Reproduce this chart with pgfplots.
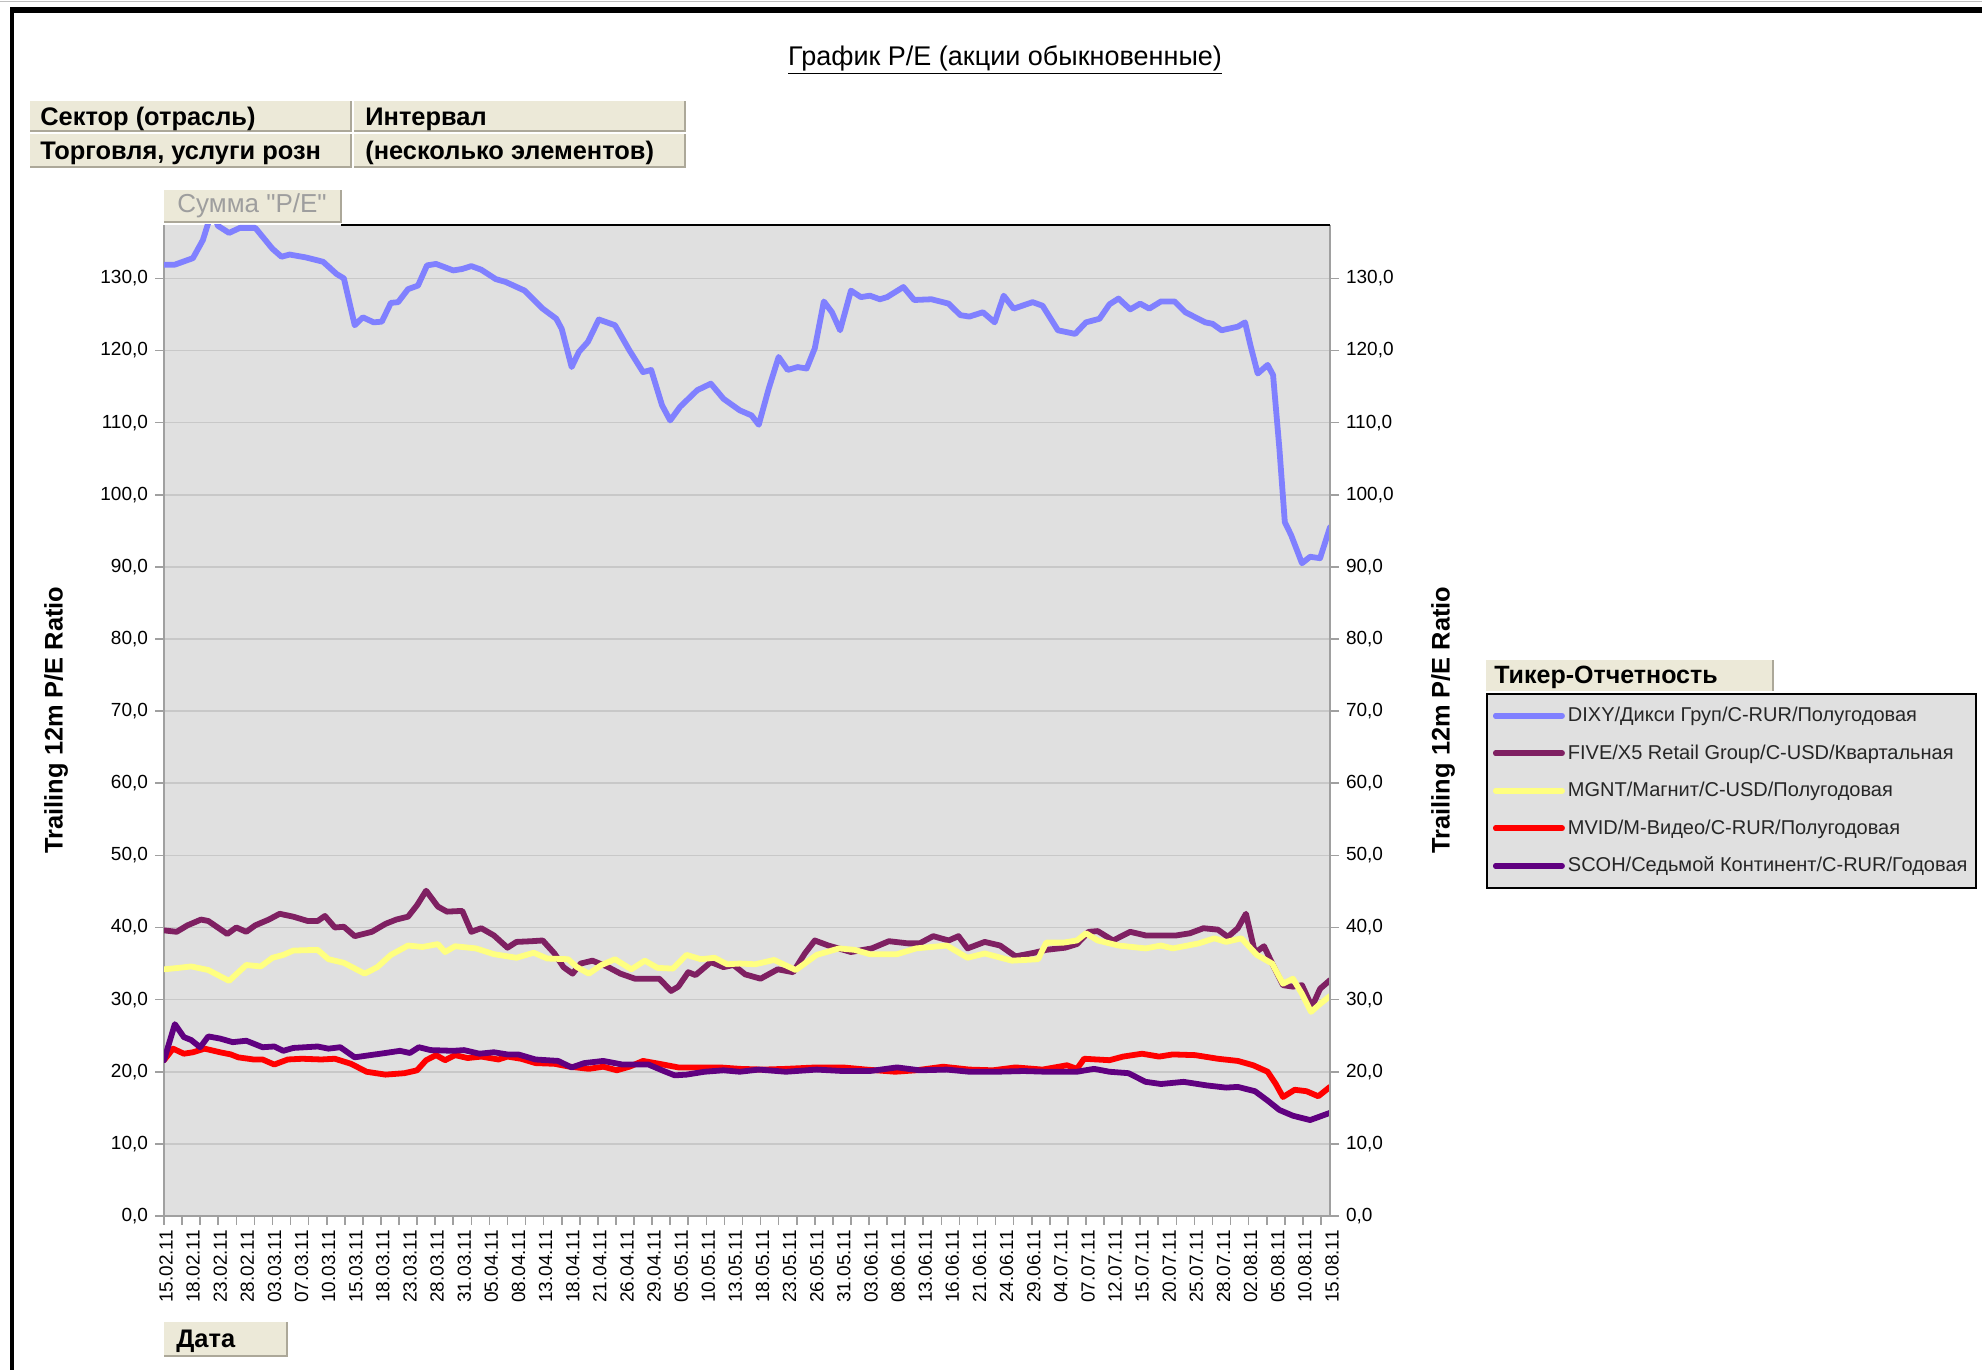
\documentclass[border=0pt]{standalone}
\usepackage{pgfplots}
\pgfplotsset{compat=1.18}
\usepackage{fontspec}
\setmainfont{Liberation Sans}
\newfontfamily\plainquotes{Liberation Sans}[Ligatures=TeXOff]
\definecolor{beige}{HTML}{ECE9D8}
\definecolor{beigedark}{HTML}{ACA899}
\definecolor{plotbg}{HTML}{E0E0E0}
\definecolor{gridc}{HTML}{C8C8C8}
\definecolor{axisc}{HTML}{A0A0A0}
\definecolor{cDIXY}{HTML}{8080FF}
\definecolor{cFIVE}{HTML}{7F2062}
\definecolor{cMGNT}{HTML}{FFFF80}
\definecolor{cMVID}{HTML}{FF0000}
\definecolor{cSCOH}{HTML}{600080}
\pgfplotsset{
  peaxis/.style={
    at={(82pt,77pt)}, anchor=south west, scale only axis,
    width=583pt, height=495.5pt,
    xmin=0, xmax=129, ymin=0, ymax=137.4,
    ytick={0,10,...,130},
    tick align=outside, major tick length=4.5pt,
    tick style={axisc, line width=0.8pt},
    axis line style={axisc, line width=1pt},
    yticklabel style={font=\fontsize{9.5}{11}\selectfont,
      /pgf/number format/.cd, fixed, fixed zerofill, precision=1, use comma, assume math mode=true},
  }
}
\begin{document}
\begin{tikzpicture}
\path[use as bounding box] (0,0) rectangle (991pt,685pt);
\fill[white] (0,0) rectangle (991pt,685pt);
% frame
\draw[gray!50, line width=0.6pt] (0,684.4pt) -- (991pt,684.4pt);
\draw[black, line width=2.6pt] (5pt,680pt) -- (991pt,680pt);
\draw[black, line width=2pt] (6pt,681pt) -- (6pt,0pt);
% title
\node[font=\fontsize{13.5}{16}\selectfont] at (502.5pt,655pt) {\underline{График P/E (акции обыкновенные)}};
% filter table
\fill[beige] (15pt,619.5pt) rectangle (175.5pt,634.5pt);
\fill[beige] (177pt,619.5pt) rectangle (342.5pt,634.5pt);
\fill[beige] (15pt,601.5pt) rectangle (175.5pt,618pt);
\fill[beige] (177pt,601.5pt) rectangle (342.5pt,618pt);
\draw[beigedark, line width=0.8pt] (15pt,619.5pt) -- (175.5pt,619.5pt) -- (175.5pt,634.5pt);
\draw[beigedark, line width=0.8pt] (177pt,619.5pt) -- (342.5pt,619.5pt) -- (342.5pt,634.5pt);
\draw[beigedark, line width=0.8pt] (15pt,601.5pt) -- (175.5pt,601.5pt) -- (175.5pt,618pt);
\draw[beigedark, line width=0.8pt] (177pt,601.5pt) -- (342.5pt,601.5pt) -- (342.5pt,618pt);
\begin{scope}[every node/.style={anchor=west, inner sep=0pt, font=\bfseries\fontsize{12.7}{14}\selectfont}]
\node at (20pt,625.5pt) {Сектор (отрасль)};
\node at (182.5pt,625.5pt) {Интервал};
\node at (20pt,608.3pt) {Торговля, услуги розн};
\node at (182.5pt,608.3pt) {(несколько элементов)};
\end{scope}
% Summa box
\fill[beige] (82pt,574pt) rectangle (170.5pt,590pt);
\draw[beigedark, line width=0.8pt] (82pt,574pt) -- (170.5pt,574pt) -- (170.5pt,590pt);
\node[anchor=west, inner sep=0pt, text=black!38, font=\plainquotes\fontsize{13}{15}\selectfont] at (88.5pt,582pt) {Сумма "P/E"};
% Data box
\fill[beige] (82pt,7pt) rectangle (143.5pt,24pt);
\draw[beigedark, line width=0.8pt] (82pt,7pt) -- (143.5pt,7pt) -- (143.5pt,24pt);
\node[anchor=west, inner sep=0pt, font=\bfseries\fontsize{12.7}{14}\selectfont] at (88pt,14.5pt) {Дата};
% y labels
\node[rotate=90, font=\bfseries\fontsize{12.7}{14}\selectfont] at (28pt,325pt) {Trailing 12m P/E Ratio};
\node[rotate=90, font=\bfseries\fontsize{12.7}{14}\selectfont] at (721.5pt,325pt) {Trailing 12m P/E Ratio};
% legend title box
\fill[beige] (743pt,339.5pt) rectangle (886.5pt,355pt);
\draw[beigedark, line width=0.8pt] (886.5pt,339.5pt) -- (886.5pt,355pt);
\node[anchor=west, inner sep=0pt, font=\bfseries\fontsize{12.5}{14}\selectfont] at (747pt,346.5pt) {Тикер-Отчетность};

\begin{axis}[peaxis,
  axis background/.style={fill=plotbg},
  axis x line*=bottom, axis y line*=left,
  ymajorgrids, grid style={gridc, line width=0.8pt},
  xtick={0,2,...,128}, xticklabels={},
  extra x ticks={0,3,...,129},
  extra x tick labels={15.02.11,18.02.11,23.02.11,28.02.11,03.03.11,07.03.11,10.03.11,15.03.11,18.03.11,23.03.11,28.03.11,31.03.11,05.04.11,08.04.11,13.04.11,18.04.11,21.04.11,26.04.11,29.04.11,05.05.11,10.05.11,13.05.11,18.05.11,23.05.11,26.05.11,31.05.11,03.06.11,08.06.11,13.06.11,16.06.11,21.06.11,24.06.11,29.06.11,04.07.11,07.07.11,12.07.11,15.07.11,20.07.11,25.07.11,28.07.11,02.08.11,05.08.11,10.08.11,15.08.11},
  extra x tick style={major tick length=0pt, grid=none,
    xticklabel style={yshift=-6pt, xshift=1pt, rotate=90, anchor=east, inner sep=1pt, font=\fontsize{9.5}{11}\selectfont}},
  legend style={at={(1.1338,0.5277)}, anchor=north west, draw=black, line width=1pt, fill=plotbg,
    font=\fontsize{10}{12}\selectfont, text=black!85, row sep=7pt, inner xsep=3pt, inner ysep=5pt,
    nodes={inner sep=1.5pt}},
  legend cell align=left,
  legend image code/.code={\draw[#1, line width=3pt] (0pt,0pt) -- (27pt,0pt); \path (0pt,0pt) -- (33pt,0pt);},
  every axis plot/.append style={line width=2.9pt, line join=round, line cap=round},
]
\addplot[cDIXY] coordinates {(0,131.9) (1.2,131.9) (3.2,132.8) (4.3,135.3) (4.8,137.3) (5.4,139.5) (5.95,137.3) (7.2,136.3) (8.4,137.0) (10.1,137.0) (12.0,134.1) (13.0,133.0) (13.9,133.3) (15.7,132.9) (17.6,132.3) (19.1,130.6) (19.9,130.0) (21.1,123.5) (22.0,124.6) (23.2,123.9) (24.1,124.0) (25.1,126.6) (25.9,126.7) (27.0,128.5) (28.1,129.0) (29.1,131.8) (30.1,132.0) (32.0,131.1) (33.0,131.3) (34.0,131.7) (35.1,131.2) (36.7,129.9) (37.8,129.5) (39.9,128.3) (41.9,125.8) (43.4,124.4) (44.0,123.0) (45.1,117.7) (45.9,119.8) (46.9,121.2) (48.1,124.3) (49.9,123.5) (51.5,120.0) (53.0,117.0) (53.9,117.3) (55.1,112.4) (56.0,110.3) (57.1,112.2) (59.0,114.5) (60.5,115.4) (61.9,113.3) (63.7,111.7) (65.0,111.0) (65.8,109.7) (66.9,114.7) (68.0,119.1) (69.0,117.3) (70.1,117.7) (71.1,117.5) (72.0,120.3) (73.0,126.8) (73.9,125.3) (74.8,122.8) (76.0,128.3) (77.1,127.4) (78.1,127.6) (79.2,127.1) (80.0,127.4) (81.8,128.8) (83.0,127.0) (84.9,127.1) (86.8,126.5) (88.1,124.9) (89.1,124.7) (90.6,125.3) (91.9,123.9) (92.9,127.6) (94.0,125.8) (96.1,126.7) (97.2,126.2) (98.9,122.8) (100.8,122.3) (102.0,123.9) (103.5,124.4) (104.6,126.4) (105.6,127.2) (106.9,125.7) (108.0,126.5) (109.0,125.8) (110.3,126.8) (111.8,126.8) (113.0,125.3) (114.1,124.6) (115.2,123.9) (116.0,123.7) (117.0,122.8) (118.8,123.3) (119.6,123.9) (120.2,120.7) (121.0,116.8) (122.1,118.0) (122.7,116.6) (123.4,106.4) (124.0,96.2) (124.7,94.4) (125.9,90.5) (126.8,91.4) (127.9,91.2) (129,95.5)};
\addlegendentry{DIXY/Дикси Груп/C-RUR/Полугодовая}
\addplot[cFIVE] coordinates {(0,39.6) (1.4,39.4) (2.6,40.3) (4.1,41.1) (4.9,40.9) (7.0,39.1) (8.0,40.0) (9.1,39.4) (10.1,40.3) (11.6,41.1) (12.8,41.9) (14.3,41.5) (15.9,40.9) (17.0,40.9) (17.8,41.6) (18.9,40.0) (19.9,40.1) (21.1,38.8) (23.0,39.4) (24.5,40.5) (25.7,41.1) (27.0,41.5) (28.0,43.1) (29.0,45.1) (30.3,42.9) (31.3,42.2) (33.0,42.3) (34.0,39.4) (35.1,39.9) (36.5,38.9) (38.0,37.2) (39.0,38.0) (40.7,38.1) (41.9,38.2) (43.2,36.4) (44.2,34.5) (45.2,33.6) (46.1,35.0) (47.4,35.4) (49.0,34.6) (50.5,33.6) (52.1,32.9) (54.8,32.9) (56.1,31.2) (56.9,31.8) (58.0,33.8) (58.8,33.4) (60.5,35.2) (61.9,34.5) (63.0,34.8) (64.3,33.5) (66.0,32.9) (67.9,34.2) (69.6,33.8) (70.9,36.4) (72.0,38.2) (73.5,37.5) (76.0,36.6) (78.3,37.1) (80.2,38.1) (82.3,37.8) (83.6,37.8) (85.1,38.8) (86.8,38.2) (87.9,38.8) (88.9,37.1) (90.8,38.0) (92.5,37.5) (94.2,36.0) (96.3,36.5) (97.6,36.9) (99.7,37.2) (101.0,37.7) (102.3,39.4) (103.3,39.5) (105.0,38.2) (106.9,39.4) (108.6,38.9) (112.0,38.9) (113.5,39.2) (115.0,39.9) (116.6,39.7) (117.7,38.7) (118.8,39.9) (119.7,41.9) (120.7,36.5) (121.7,37.4) (122.8,34.5) (123.8,32.0) (124.9,31.8) (125.9,32.0) (127.0,29.0) (127.9,31.5) (129,32.7)};
\addlegendentry{FIVE/X5 Retail Group/C-USD/Квартальная}
\addplot[cMGNT] coordinates {(0,34.2) (1.6,34.4) (3.0,34.6) (4.9,34.1) (7.2,32.6) (9.1,34.8) (10.7,34.6) (12.0,35.8) (13.2,36.2) (14.3,36.8) (17.0,36.9) (18.2,35.6) (19.9,35.1) (22.2,33.6) (23.6,34.5) (25.1,36.2) (27.0,37.5) (28.6,37.3) (30.3,37.7) (31.1,36.6) (32.2,37.4) (34.5,37.1) (36.5,36.3) (39.0,35.8) (40.9,36.5) (42.4,35.7) (44.7,35.6) (45.7,34.5) (47.0,33.6) (48.4,34.8) (49.9,35.6) (51.7,34.2) (53.2,35.4) (54.6,34.4) (56.3,34.3) (57.8,36.2) (59.4,35.6) (60.9,35.8) (62.3,34.9) (63.7,35.0) (65.4,34.9) (67.5,35.5) (69.9,34.1) (72.2,36.2) (74.7,37.1) (76.4,36.9) (78.1,36.3) (81.1,36.3) (83.2,37.1) (86.6,37.5) (88.9,35.8) (90.8,36.4) (93.8,35.4) (96.7,35.6) (97.6,37.9) (99.5,37.9) (101.0,38.2) (102.0,39.2) (103.3,38.2) (105.6,37.5) (108.6,37.1) (110.3,37.5) (111.6,37.1) (114.5,37.8) (116.2,38.5) (117.5,38.0) (119.2,38.5) (120.9,36.2) (122.6,35.0) (123.8,32.2) (124.9,32.9) (125.9,30.8) (126.9,28.3) (127.9,29.4) (129,30.5)};
\addlegendentry{MGNT/Магнит/C-USD/Полугодовая}
\addplot[cMVID] coordinates {(0,21.6) (1.0,23.2) (2.2,22.5) (3.2,22.7) (4.5,23.2) (6.2,22.7) (7.4,22.4) (8.2,22.0) (9.9,21.7) (10.9,21.7) (12.2,21.0) (13.7,21.7) (15.3,21.8) (17.4,21.7) (18.9,21.8) (20.7,21.1) (22.4,20.0) (24.5,19.6) (26.6,19.8) (28.0,20.2) (29.0,21.6) (30.1,22.3) (31.1,21.6) (32.2,22.3) (33.6,21.9) (35.1,22.1) (37.0,21.7) (38.0,22.1) (39.5,21.8) (41.1,21.2) (43.2,21.1) (44.9,20.7) (47.0,20.4) (48.6,20.7) (50.1,20.2) (51.5,20.7) (53.0,21.5) (54.8,21.1) (56.9,20.6) (59.0,20.6) (61.5,20.6) (63.7,20.4) (66.3,20.3) (68.8,20.4) (72.2,20.6) (75.1,20.6) (77.7,20.3) (80.9,20.0) (83.2,20.2) (86.2,20.7) (89.1,20.3) (91.7,20.2) (94.2,20.6) (97.2,20.3) (99.9,20.9) (101.0,20.4) (101.8,21.8) (104.6,21.6) (106.1,22.1) (108.2,22.5) (110.1,22.1) (111.6,22.4) (114.1,22.3) (116.6,21.8) (118.8,21.5) (120.5,20.9) (122.1,20.0) (123.0,18.3) (123.8,16.5) (125.1,17.5) (126.4,17.3) (127.7,16.6) (129,17.9)};
\addlegendentry{MVID/М-Видео/C-RUR/Полугодовая}
\addplot[cSCOH] coordinates {(0,21.6) (1.2,26.6) (2.2,24.8) (3.0,24.4) (4.0,23.4) (4.9,24.9) (6.2,24.6) (7.6,24.1) (9.1,24.3) (10.9,23.4) (12.2,23.5) (13.2,22.9) (14.3,23.3) (17.0,23.5) (18.2,23.2) (19.5,23.4) (21.1,22.0) (22.8,22.3) (24.5,22.6) (26.1,22.9) (27.2,22.6) (28.2,23.4) (29.5,23.0) (32.0,22.9) (33.2,23.0) (34.9,22.5) (36.5,22.7) (38.0,22.4) (39.2,22.4) (41.1,21.7) (43.6,21.5) (45.1,20.6) (46.5,21.2) (48.6,21.5) (50.7,21.0) (53.6,21.0) (55.1,20.2) (56.5,19.5) (57.8,19.6) (59.8,20.0) (61.9,20.2) (63.7,20.0) (65.8,20.3) (68.8,20.0) (72.2,20.3) (75.1,20.1) (78.1,20.1) (81.1,20.6) (83.6,20.2) (86.6,20.3) (89.1,20.0) (92.1,20.0) (95.1,20.1) (97.6,20.0) (101.0,20.0) (102.9,20.4) (104.6,20.0) (106.7,19.8) (108.6,18.6) (110.3,18.3) (112.8,18.6) (115.4,18.1) (117.5,17.8) (118.8,17.9) (120.7,17.3) (122.1,16.0) (123.4,14.7) (124.9,13.9) (126.8,13.3) (127.9,13.8) (129,14.3)};
\addlegendentry{SCOH/Седьмой Континент/C-RUR/Годовая}
\end{axis}
\begin{axis}[peaxis,
  axis y line*=right, axis x line=none,
  xtick=\empty,
]
\addplot[draw=none] coordinates {(0,0) (129,0)};
\end{axis}
% top border of plot area
\draw[black, line width=1.2pt] (170.5pt,572.5pt) -- (665pt,572.5pt);
\end{tikzpicture}
\end{document}
